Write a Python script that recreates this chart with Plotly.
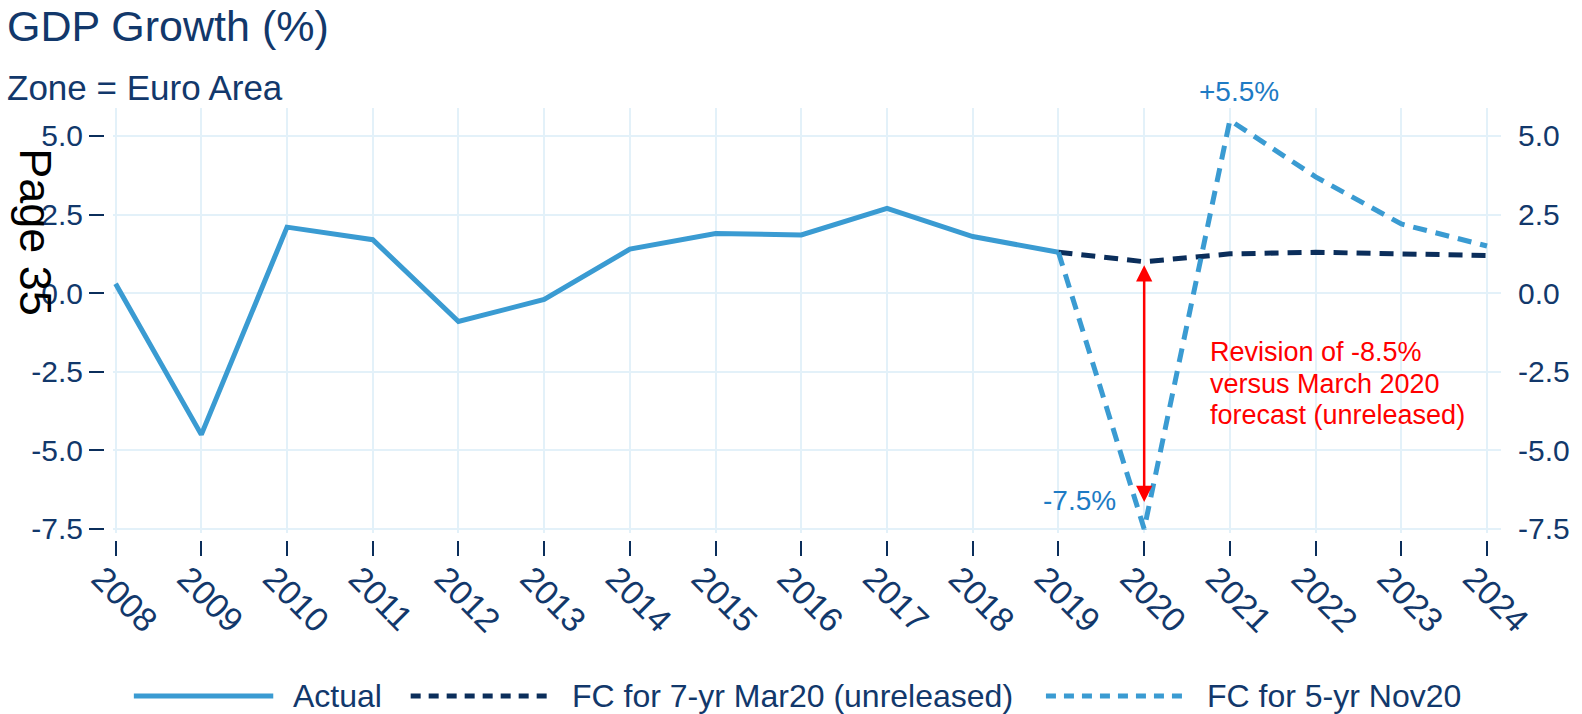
import plotly.graph_objects as go

# ---- data -------------------------------------------------------------
years_actual = [2008, 2009, 2010, 2011, 2012, 2013, 2014, 2015, 2016, 2017, 2018, 2019]
gdp_actual = [0.3, -4.5, 2.1, 1.7, -0.9, -0.2, 1.4, 1.9, 1.85, 2.7, 1.8, 1.3]

years_fc = [2019, 2020, 2021, 2022, 2023, 2024]
fc_mar20 = [1.3, 1.0, 1.25, 1.3, 1.25, 1.2]
fc_nov20 = [1.3, -7.5, 5.5, 3.7, 2.2, 1.5]

y_ticks = [-7.5, -5.0, -2.5, 0.0, 2.5, 5.0]
x_ticks = list(range(2008, 2025))

series_names = ["Actual", "FC for 7-yr Mar20 (unreleased)", "FC for 5-yr Nov20"]
revision_lines = ["Revision of -8.5%", "versus March 2020", "forecast (unreleased)"]

# ---- styling ----------------------------------------------------------
W, H = 1582, 714
ML, MR, MT, MB = 100, 75, 108, 169
PW, PH = W - ML - MR, H - MT - MB

LIGHT = "#3A9BD2"
NAVY = "#0B2E5B"
TEXT = "#12386B"
GRID = "#E3F1F9"
LABEL_BLUE = "#1E7BC4"
FONT = "Liberation Sans, Arial, sans-serif"
DASH = "14px,9px"
LEGEND_DASH = "10px,8px"


def px(x):
    """pixel x -> paper x"""
    return (x - ML) / PW


def py(y):
    """pixel y -> paper y"""
    return (H - MB - y) / PH


fig = go.Figure()

fig.add_trace(go.Scatter(x=years_actual, y=gdp_actual, mode="lines", name=series_names[0],
                         line=dict(color=LIGHT, width=5), showlegend=False))
fig.add_trace(go.Scatter(x=years_fc, y=fc_mar20, mode="lines", name=series_names[1],
                         line=dict(color=NAVY, width=5, dash=DASH), showlegend=False))
fig.add_trace(go.Scatter(x=years_fc, y=fc_nov20, mode="lines", name=series_names[2],
                         line=dict(color=LIGHT, width=5, dash=DASH), showlegend=False))
# invisible copy so the right-hand axis is drawn
fig.add_trace(go.Scatter(x=years_actual, y=gdp_actual, yaxis="y2", mode="lines",
                         line=dict(width=0), opacity=0, hoverinfo="skip", showlegend=False))

x_range = [2007.969, 2024.163]
y_range = [-7.63, 5.89]

fig.update_layout(
    width=W, height=H,
    margin=dict(l=ML, r=MR, t=MT, b=MB, pad=0),
    plot_bgcolor="white", paper_bgcolor="white",
    font=dict(family=FONT, color=TEXT, size=30),
    showlegend=False,
    xaxis=dict(
        domain=[px(113), 1], range=x_range, anchor="free", position=py(540),
        tickmode="array", tickvals=x_ticks, ticktext=[str(y) for y in x_ticks],
        tickangle=45, ticks="outside", ticklen=15, tickwidth=2, tickcolor=NAVY,
        ticklabelshift=-14, ticklabelstandoff=-11,
        showgrid=True, gridcolor=GRID, gridwidth=2, zeroline=False, showline=False,
        tickfont=dict(size=34, color=TEXT),
    ),
    yaxis=dict(
        domain=[py(533), 1], range=y_range, anchor="free", position=px(104),
        tickmode="array", tickvals=y_ticks, ticktext=[f"{v:.1f}" for v in y_ticks],
        ticks="outside", ticklen=15, tickwidth=2, tickcolor=NAVY,
        showgrid=True, gridcolor=GRID, gridwidth=2, zeroline=False, showline=False,
        tickfont=dict(size=30, color=TEXT),
    ),
    yaxis2=dict(
        overlaying="y", side="right", anchor="x", range=y_range,
        tickmode="array", tickvals=y_ticks, ticktext=[f"{v:.1f}" for v in y_ticks],
        ticks="", ticklabelstandoff=16, showgrid=False, zeroline=False, showline=False,
        tickfont=dict(size=30, color=TEXT),
    ),
)

annotations = [
    dict(text="GDP Growth (%)", x=px(5), y=py(26), xref="paper", yref="paper",
         xanchor="left", yanchor="middle", showarrow=False,
         font=dict(size=43, color=TEXT, family=FONT)),
    dict(text="Zone = Euro Area", x=px(5), y=py(87.5), xref="paper", yref="paper",
         xanchor="left", yanchor="middle", showarrow=False,
         font=dict(size=35, color=TEXT, family=FONT)),
    dict(text="Page 35", x=px(35.5), y=py(232), xref="paper", yref="paper",
         xanchor="center", yanchor="middle", showarrow=False, textangle=90,
         font=dict(size=45, color="black", family=FONT)),
    # point labels
    dict(text="-7.5%", x=years_fc[1], y=fc_nov20[1], xanchor="right", yanchor="middle",
         xshift=-26, yshift=28, showarrow=False,
         font=dict(size=28, color=LABEL_BLUE, family=FONT)),
    dict(text="+5.5%", x=years_fc[2], y=fc_nov20[2], xanchor="center", yanchor="middle",
         xshift=9, yshift=29, showarrow=False,
         font=dict(size=28, color=LABEL_BLUE, family=FONT)),
    # revision arrow between the two 2020 forecasts
    dict(text="", x=years_fc[1], y=fc_nov20[1], ax=years_fc[1], ay=fc_mar20[1],
         xref="x", yref="y", axref="x", ayref="y", showarrow=True,
         arrowhead=2, startarrowhead=2, arrowside="end+start", arrowsize=1.3,
         startarrowsize=1.3, arrowwidth=2.5, arrowcolor="#FF0000",
         standoff=27, startstandoff=2),
]

# revision note, one annotation per line for a tighter line pitch
for i, line in enumerate(revision_lines):
    annotations.append(dict(text=line, x=px(1213), y=py(352 + 31.5 * i), xref="paper",
                            yref="paper", xanchor="left", yanchor="middle", showarrow=False,
                            font=dict(size=27, color="#FF0000", family=FONT)))

# legend built from line samples and labels
legend_y = 696
legend_items = [
    (series_names[0], LIGHT, "solid", 134, 274, 292),
    (series_names[1], NAVY, LEGEND_DASH, 412, 552, 572),
    (series_names[2], LIGHT, LEGEND_DASH, 1050, 1190, 1210),
]
shapes = []
for name, color, dash, x0, x1, tx in legend_items:
    shapes.append(dict(type="line", xref="paper", yref="paper",
                       x0=px(x0), x1=px(x1), y0=py(legend_y), y1=py(legend_y),
                       line=dict(color=color, width=5, dash=dash)))
    annotations.append(dict(text=name, x=px(tx), y=py(legend_y), xref="paper", yref="paper",
                            xanchor="left", yanchor="middle", showarrow=False,
                            font=dict(size=32, color=TEXT, family=FONT)))

fig.update_layout(annotations=annotations, shapes=shapes)

fig.write_html("out.html")
